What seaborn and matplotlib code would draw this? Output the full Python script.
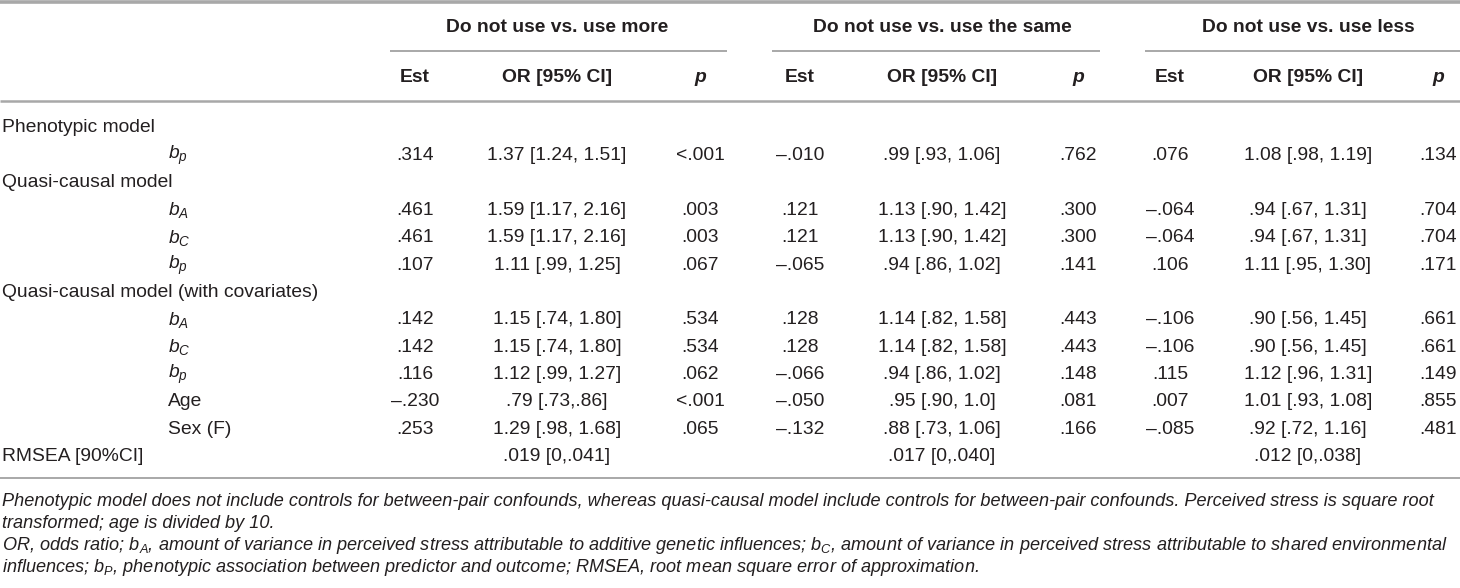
import matplotlib
matplotlib.use("Agg")
import matplotlib.pyplot as plt
import numpy as np
import pandas as pd
import seaborn as sns

# --- table contents ---
row_labels = ["Phenotypic model", r"$b_p$", "Quasi-causal model", r"$b_A$", r"$b_C$", r"$b_p$",
              "Quasi-causal model (with covariates)", r"$b_A$", r"$b_C$", r"$b_p$",
              "Age", "Sex (F)", "RMSEA [90%CI]"]
row_indent = [0, 1, 0, 1, 1, 1, 0, 1, 1, 1, 1, 1, 0]

group_names = ["Do not use vs. use more", "Do not use vs. use the same", "Do not use vs. use less"]
sub_headers = ["Est", "OR [95% CI]", "p"]
sub_styles = ["normal", "normal", "italic"]

est_more = ["", ".314", "", ".461", ".461", ".107", "", ".142", ".142", ".116", "\u2013.230", ".253", ""]
or_more = ["", "1.37 [1.24, 1.51]", "", "1.59 [1.17, 2.16]", "1.59 [1.17, 2.16]", "1.11 [.99, 1.25]", "",
           "1.15 [.74, 1.80]", "1.15 [.74, 1.80]", "1.12 [.99, 1.27]", ".79 [.73,.86]", "1.29 [.98, 1.68]",
           ".019 [0,.041]"]
p_more = ["", "<.001", "", ".003", ".003", ".067", "", ".534", ".534", ".062", "<.001", ".065", ""]

est_same = ["", "\u2013.010", "", ".121", ".121", "\u2013.065", "", ".128", ".128", "\u2013.066", "\u2013.050",
            "\u2013.132", ""]
or_same = ["", ".99 [.93, 1.06]", "", "1.13 [.90, 1.42]", "1.13 [.90, 1.42]", ".94 [.86, 1.02]", "",
           "1.14 [.82, 1.58]", "1.14 [.82, 1.58]", ".94 [.86, 1.02]", ".95 [.90, 1.0]", ".88 [.73, 1.06]",
           ".017 [0,.040]"]
p_same = ["", ".762", "", ".300", ".300", ".141", "", ".443", ".443", ".148", ".081", ".166", ""]

est_less = ["", ".076", "", "\u2013.064", "\u2013.064", ".106", "", "\u2013.106", "\u2013.106", ".115", ".007",
            "\u2013.085", ""]
or_less = ["", "1.08 [.98, 1.19]", "", ".94 [.67, 1.31]", ".94 [.67, 1.31]", "1.11 [.95, 1.30]", "",
           ".90 [.56, 1.45]", ".90 [.56, 1.45]", "1.12 [.96, 1.31]", "1.01 [.93, 1.08]", ".92 [.72, 1.16]",
           ".012 [0,.038]"]
p_less = ["", ".134", "", ".704", ".704", ".171", "", ".661", ".661", ".149", ".855", ".481", ""]

footnotes = [
    "Phenotypic model does not include controls for between-pair confounds, whereas quasi-causal model "
    "include controls for between-pair confounds. Perceived stress is square root",
    "transformed; age is divided by 10.",
    r"OR, odds ratio; $b_A$, amount of variance in perceived stress attributable to additive genetic "
    r"influences; $b_C$, amount of variance in perceived stress attributable to shared environmental",
    r"influences; $b_P$, phenotypic association between predictor and outcome; RMSEA, root mean square "
    r"error of approximation.",
]

table = pd.DataFrame({
    "label": row_labels, "indent": row_indent,
    "est_more": est_more, "or_more": or_more, "p_more": p_more,
    "est_same": est_same, "or_same": or_same, "p_same": p_same,
    "est_less": est_less, "or_less": or_less, "p_less": p_less,
})
groups = [["est_more", "or_more", "p_more"], ["est_same", "or_same", "p_same"], ["est_less", "or_less", "p_less"]]

# --- style ---
sns.set_theme(style="white")
plt.rcParams["font.family"] = ["Liberation Sans", "DejaVu Sans"]
plt.rcParams["mathtext.fontset"] = "custom"
plt.rcParams["mathtext.rm"] = "Liberation Sans"
plt.rcParams["mathtext.it"] = "Liberation Sans:italic"

ink = "#231f20"
rule = "#a8a8a8"
fs = 13.9

fig = plt.figure(figsize=(14.6, 5.88), dpi=100)
ax = fig.add_axes([0, 0, 1, 1])
ax.set_xlim(0, 1460)
ax.set_ylim(588, 0)
ax.axis("off")

# layout (pixels)
col_x = [[415, 557, 700], [800, 942, 1078], [1170, 1308, 1438]]
span_x = [(390, 727), (772, 1100), (1145, 1460)]
row_y0, row_dy = 128, 27.4

# rules
ax.hlines(1.5, 0, 1460, color=rule, lw=2.6)
ax.hlines(101, 0, 1460, color=rule, lw=1.8)
ax.hlines(478, 0, 1460, color=rule, lw=1.4)
for (x0, x1) in span_x:
    ax.hlines(51, x0, x1, color=rule, lw=1.4)

# headers
for g, name in enumerate(group_names):
    ax.text(col_x[g][1], 27, name, ha="center", va="center",
            fontsize=fs, fontweight="bold", color=ink)
    for c, h in enumerate(sub_headers):
        ax.text(col_x[g][c], 77, h, ha="center", va="center",
                fontsize=fs, fontweight="bold", fontstyle=sub_styles[c], color=ink)

# body
for i, row in table.iterrows():
    y = row_y0 + row_dy * i
    x = 168 if row["indent"] else 2
    ax.text(x, y, row["label"], ha="left", va="center", fontsize=fs, color=ink)
    for g, cols in enumerate(groups):
        for c, col in enumerate(cols):
            if row[col]:
                ax.text(col_x[g][c], y, row[col], ha="center", va="center", fontsize=fs, color=ink)

# notes
for line, y in zip(footnotes, [502, 524, 546, 568]):
    ax.text(2, y, line, ha="left", va="center", fontsize=13.1, fontstyle="italic", color=ink)

fig.savefig("out.png", dpi=100)
